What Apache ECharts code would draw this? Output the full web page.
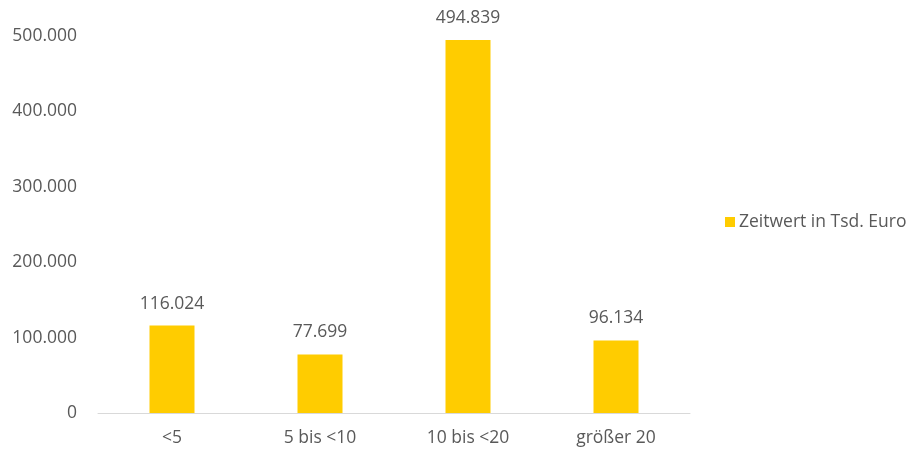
<!DOCTYPE html>
<html>
<head>
<meta charset="utf-8">
<script src="https://cdn.jsdelivr.net/npm/echarts@6/dist/echarts.min.js"></script>
<style>html,body{margin:0;padding:0;background:#fff}#c{width:913px;height:449px}</style>
</head>
<body>
<div id="c"></div>
<script>
const categories = ['<5', '5 bis <10', '10 bis <20', 'größer 20'];
const values = [116024, 77699, 494839, 96134];
const seriesName = 'Zeitwert in Tsd. Euro';

function de(v) { return String(v).replace(/\B(?=(\d{3})+(?!\d))/g, '.'); }

const FONT = 'Open Sans';
const FS = 17.5;
const chart = echarts.init(document.getElementById('c'));
chart.setOption({
  animation: false,
  textStyle: { fontFamily: FONT },
  grid: { left: 98, right: 223, top: 36, bottom: 36 },
  legend: {
    data: [seriesName],
    orient: 'vertical',
    left: 720, top: 208,
    itemWidth: 10, itemHeight: 10, itemGap: 5,
    icon: 'rect',
    textStyle: { fontSize: FS, color: '#595959', fontFamily: FONT, padding: [0,0,0,-1] }
  },
  xAxis: {
    type: 'category',
    data: categories,
    axisLine: { lineStyle: { color: '#d9d9d9', width: 1 } },
    axisTick: { show: false },
    axisLabel: { fontSize: FS, color: '#595959', margin: 16, fontFamily: FONT }
  },
  yAxis: {
    type: 'value',
    min: 0, max: 500000, interval: 100000,
    splitLine: { show: false },
    axisLine: { show: false },
    axisLabel: { fontSize: FS, color: '#595959', margin: 21, fontFamily: FONT, formatter: de }
  },
  series: [{
    name: seriesName,
    type: 'bar',
    data: values,
    barWidth: 45,
    itemStyle: { color: '#FFCC00' },
    label: { show: true, position: 'top', distance: 13, fontSize: FS, color: '#595959', fontFamily: FONT, formatter: p => de(p.value) }
  }]
});
</script>
</body>
</html>
